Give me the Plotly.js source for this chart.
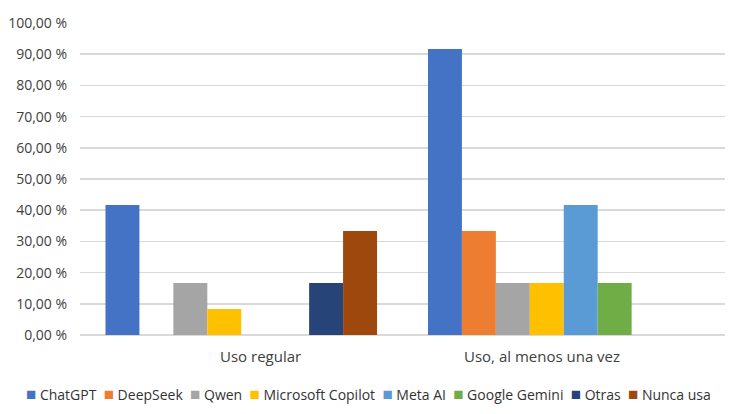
<!DOCTYPE html>
<html><head><meta charset="utf-8">
<script src="https://cdn.plot.ly/plotly-3.0.1.min.js"></script>
<style>body{margin:0;background:#fff}#c{width:737px;height:414px}</style>
</head><body><div id="c"></div>
<script>
const categories = ["Uso regular", "Uso, al menos una vez"];
const seriesNames = ["ChatGPT","DeepSeek","Qwen","Microsoft Copilot","Meta AI","Google Gemini","Otras","Nunca usa"];
const ChatGPT = [41.67, 91.67];
const DeepSeek = [0, 33.33];
const Qwen = [16.67, 16.67];
const MicrosoftCopilot = [8.33, 16.67];
const MetaAI = [0, 41.67];
const GoogleGemini = [0, 16.67];
const Otras = [16.67, 0];
const NuncaUsa = [33.33, 0];
const seriesValues = [ChatGPT, DeepSeek, Qwen, MicrosoftCopilot, MetaAI, GoogleGemini, Otras, NuncaUsa];
const colors = ["#4472C4","#ED7D31","#A5A5A5","#FFC000","#5B9BD5","#70AD47","#264478","#9E480E"];
const yTicks = [0,10,20,30,40,50,60,70,80,90,100];
const yTickText = yTicks.map(v => v.toFixed(2).replace('.', ',') + ' %');

const traces = seriesNames.map((n,i)=>({
  type:'bar', name:n, x:categories, y:seriesValues[i],
  marker:{color:colors[i]}, hoverinfo:'skip'
}));

const fam = "Open Sans, Liberation Sans, sans-serif";
const tickFont = {family:fam, size:14, color:"#404040"};
const catFont = {family:fam, size:15, color:"#404040"};
const legendFont = {family:fam, size:14, color:"#333333"};

// Legend row built from the series names and colours
const legendText = seriesNames.map((n,i) =>
  `<span style="color:${colors[i]};font-size:17px">■</span>\u00a0${n}`).join('\u00a0\u00a0');

const layout = {
  width:737, height:414,
  margin:{l:80, r:12, t:23, b:79},
  paper_bgcolor:'#fff', plot_bgcolor:'#fff',
  font:tickFont,
  barmode:'group', bargap:0.158, bargroupgap:0,
  showlegend:false,
  xaxis:{showticklabels:false, showline:false, ticks:'', showgrid:false, zeroline:false},
  yaxis:{range:[0,100], tickmode:'array', tickvals:yTicks, ticktext:yTickText,
    showgrid:true, gridcolor:'#d9d9d9', gridwidth:1.5, zeroline:true, zerolinecolor:'#d9d9d9', zerolinewidth:1.5,
    showline:false, ticks:'', ticklabelstandoff:12, tickfont:tickFont},
  annotations:[
    {x:categories[0], y:0, yref:'y', xref:'x', text:categories[0], showarrow:false, yanchor:'top', yshift:-9, xshift:19, font:catFont},
    {x:categories[1], y:0, yref:'y', xref:'x', text:categories[1], showarrow:false, yanchor:'top', yshift:-9, xshift:-22, font:catFont},
    {x:0.447, xref:'paper', xanchor:'center', y:-0.186, yref:'paper', yanchor:'middle', showarrow:false,
     text:legendText, font:legendFont}
  ]
};
Plotly.newPlot('c', traces, layout, {staticPlot:true, displayModeBar:false});
</script></body></html>
